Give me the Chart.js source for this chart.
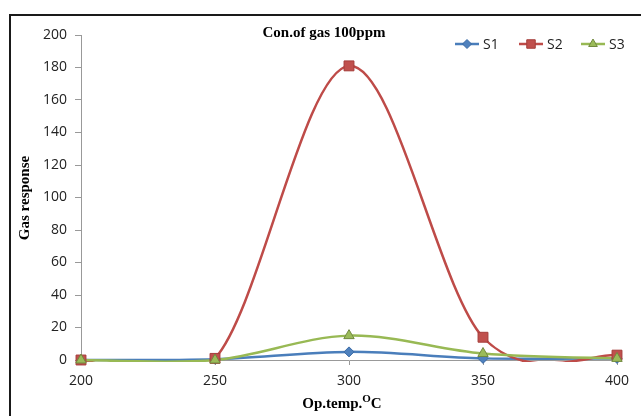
<!DOCTYPE html>
<html>
<head>
<meta charset="utf-8">
<script src="https://cdn.jsdelivr.net/npm/chart.js@4.4.1/dist/chart.umd.min.js"></script>
<style>
  html, body { margin: 0; padding: 0; background: #fff; }
  #wrap { position: relative; width: 641px; height: 416px; }
</style>
</head>
<body>
<div id="wrap"><canvas id="c" width="641" height="416"></canvas></div>
<script>
// values
const temps = ['200', '250', '300', '350', '400'];
const s1 = [0, 0.5, 5, 1, 1];
const s2 = [0, 1, 181, 14, 3];
const s3 = [0, 0, 15, 4, 1];
const yTicks = [0, 20, 40, 60, 80, 100, 120, 140, 160, 180, 200];

const seriesNames = ['S1', 'S2', 'S3'];
const lineColors = ['#4A7EBB', '#BE4B48', '#98B954'];
const markColors = ['#4F81BD', '#C0504D', '#9BBB59'];
const markEdges = ['#3A6AA5', '#A53D3A', '#71893F'];
const markShapes = ['rectRot', 'rect', 'triangle'];
const markSizes = [5, 7, 6];

const serif = '"Liberation Serif", "Times New Roman", serif';
const sans = '"Open Sans", "Noto Sans", sans-serif';

// Excel-style smoothing: uniform Catmull-Rom handles (1/6 of neighbour span)
const excelSmooth = {
  id: 'excelSmooth',
  afterDatasetsUpdate(chart) {
    chart.data.datasets.forEach((ds, di) => {
      if (!ds.showLine) return;
      const meta = chart.getDatasetMeta(di);
      const pts = meta.data;
      const n = pts.length;
      for (let i = 0; i < n; i++) {
        const p = pts[i];
        const prev = pts[Math.max(i - 1, 0)];
        const next = pts[Math.min(i + 1, n - 1)];
        const tx = (next.x - prev.x) / 6;
        const ty = (next.y - prev.y) / 6;
        p.cp1x = p.x - tx; p.cp1y = p.y - ty;
        p.cp2x = p.x + tx; p.cp2y = p.y + ty;
      }
      meta.dataset._pointsUpdated = true;
    });
  }
};

// frame, title, legend and axis titles
const decor = {
  id: 'decor',
  afterDraw(chart) {
    const ctx = chart.ctx;
    ctx.save();
    ctx.strokeStyle = '#1a1a1a';
    ctx.lineWidth = 2;
    ctx.strokeRect(10, 15, 700, 500);

    ctx.fillStyle = '#000';
    ctx.font = 'bold 15px ' + serif;
    ctx.textAlign = 'center';
    ctx.textBaseline = 'middle';
    ctx.fillText('Con.of gas 100ppm', 324, 33);

    // legend
    const lx = [455, 519, 581];
    const lsz = [4.5, 6, 5];
    ctx.font = '14px ' + sans;
    ctx.textAlign = 'left';
    for (let i = 0; i < 3; i++) {
      ctx.strokeStyle = lineColors[i];
      ctx.lineWidth = 2.5;
      ctx.beginPath();
      ctx.moveTo(lx[i], 44);
      ctx.lineTo(lx[i] + 24, 44);
      ctx.stroke();
      ctx.fillStyle = markColors[i];
      ctx.strokeStyle = markEdges[i];
      ctx.lineWidth = 1;
      Chart.helpers.drawPoint(ctx, {
        pointStyle: markShapes[i], radius: lsz[i], borderWidth: 1
      }, lx[i] + 12, 44);
      ctx.fillStyle = '#222';
      ctx.fillText(seriesNames[i], lx[i] + 28, 45);
    }

    // y axis title
    ctx.save();
    ctx.translate(25, 198);
    ctx.rotate(-Math.PI / 2);
    ctx.font = 'bold 15px ' + serif;
    ctx.textAlign = 'center';
    ctx.fillStyle = '#000';
    ctx.fillText('Gas response', 0, 0);
    ctx.restore();

    // x axis title with superscript O
    ctx.font = 'bold 15px ' + serif;
    const a = 'Op.temp.';
    ctx.textAlign = 'left';
    const wa = ctx.measureText(a).width;
    ctx.font = 'bold 11px ' + serif;
    const wb = ctx.measureText('O').width;
    ctx.font = 'bold 15px ' + serif;
    const wc = ctx.measureText('C').width;
    let x0 = 342 - (wa + wb + wc) / 2;
    ctx.fillStyle = '#000';
    ctx.fillText(a, x0, 404);
    ctx.font = 'bold 11px ' + serif;
    ctx.fillText('O', x0 + wa, 399);
    ctx.font = 'bold 15px ' + serif;
    ctx.fillText('C', x0 + wa + wb, 404);
    ctx.restore();
  }
};

const datasets = [];
// smoothed lines, clipped at the plot area like the source
[s1, s2, s3].forEach((vals, i) => {
  datasets.push({
    label: seriesNames[i],
    data: vals,
    showLine: true,
    borderColor: lineColors[i],
    borderWidth: 2.5,
    pointRadius: 0,
    tension: 0.4,
    clip: { left: 5, top: 5, right: 5, bottom: 2 },
    fill: false,
    order: 6 - i
  });
});
// markers, not clipped
[s1, s2, s3].forEach((vals, i) => {
  datasets.push({
    label: seriesNames[i] + ' markers',
    data: vals,
    showLine: false,
    backgroundColor: markColors[i],
    borderColor: markEdges[i],
    pointBackgroundColor: markColors[i],
    pointBorderColor: markEdges[i],
    pointBorderWidth: 1,
    pointStyle: markShapes[i],
    pointRadius: markSizes[i],
    clip: false,
    order: 3 - i
  });
});

new Chart(document.getElementById('c'), {
  type: 'line',
  data: { labels: temps, datasets: datasets },
  options: {
    responsive: false,
    animation: false,
    devicePixelRatio: 1,
    layout: { padding: { left: 0, right: 24, top: 35, bottom: 0 } },
    plugins: { legend: { display: false }, title: { display: false }, tooltip: { enabled: false } },
    scales: {
      x: {
        type: 'category',
        offset: false,
        grid: { drawOnChartArea: false, drawTicks: true, tickLength: 5, color: '#999' },
        border: { display: true, color: '#999', width: 1 },
        ticks: { color: '#222', font: { family: sans, size: 14 }, padding: 8, maxRotation: 0 },
        afterFit(s) { s.height = 56; }
      },
      y: {
        min: 0, max: 200,
        afterBuildTicks(s) { s.ticks = yTicks.map(v => ({ value: v })); },
        grid: { drawOnChartArea: false, drawTicks: true, tickLength: 6, color: '#999' },
        border: { display: true, color: '#999', width: 1 },
        ticks: { color: '#222', font: { family: sans, size: 14 }, padding: 8 },
        afterFit(s) { s.width = 81; }
      }
    }
  },
  plugins: [excelSmooth, decor]
});
</script>
</body>
</html>
